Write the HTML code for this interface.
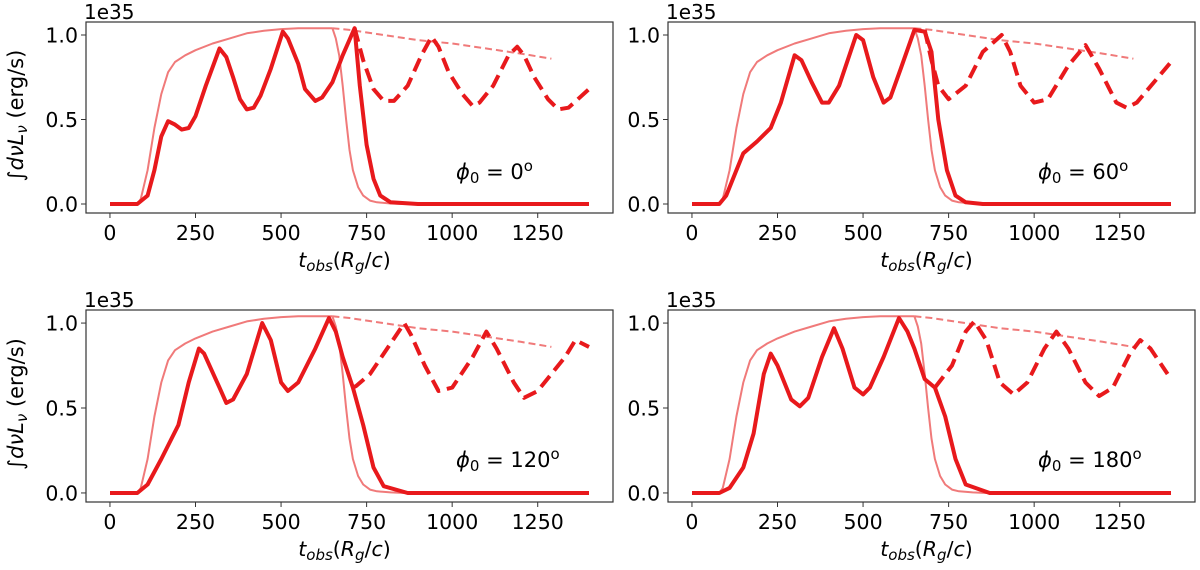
<!DOCTYPE html>
<html><head><meta charset="utf-8"><style>
body{margin:0;background:#fff;}
svg text{font-family:"DejaVu Sans","Liberation Sans",sans-serif;}
</style></head><body>
<svg id="fig" width="1200" height="565" viewBox="0 0 1200 565" xmlns="http://www.w3.org/2000/svg"></svg>
<script>
const xTicks=[0,250,500,750,1000,1250];
const yTicks=[0,0.5,1.0];
const yTickLabels=["0.0","0.5","1.0"];
const phiLabels=["0","60","120","180"];
const envT=[0,80,90,110,130,150,170,190,220,250,300,350,400,450,500,550,650];
const envV=[0,0,0.03,0.2,0.45,0.65,0.78,0.84,0.88,0.91,0.95,0.98,1.01,1.025,1.035,1.04,1.04];
const dropT=[650,660,670,680,690,700,710,725,740,760,780,820,860,1400];
const dropV=[1.04,0.98,0.88,0.7,0.5,0.32,0.2,0.1,0.05,0.02,0.01,0.003,0,0];
const envDashT=[650,700,800,900,1000,1100,1200,1290];
const envDashV=[1.04,1.03,1.0,0.97,0.95,0.92,0.89,0.86];
const solidT=[
[0,80,110,130,150,170,190,210,230,250,280,320,340,360,380,400,420,440,470,505,520,550,570,600,620,650,680,715,730,750,770,790,820,900,1400],
[0,80,100,130,150,190,230,260,300,320,350,380,400,430,480,500,530,560,580,610,650,680,700,720,745,770,800,850,1400],
[0,80,110,150,200,230,260,275,320,340,360,400,445,470,500,520,550,600,640,660,680,710,740,770,800,870,1400],
[0,80,110,150,180,210,230,250,290,315,340,380,415,440,475,500,520,560,605,630,650,680,710,740,770,800,870,1400]];
const solidV=[
[0,0,0.05,0.2,0.4,0.49,0.47,0.44,0.45,0.52,0.7,0.92,0.87,0.75,0.62,0.56,0.57,0.64,0.8,1.02,0.98,0.83,0.68,0.61,0.63,0.72,0.88,1.04,0.7,0.35,0.15,0.05,0.01,0,0],
[0,0,0.05,0.2,0.3,0.37,0.45,0.6,0.88,0.85,0.72,0.6,0.6,0.7,1.0,0.97,0.75,0.6,0.63,0.8,1.03,1.02,0.9,0.5,0.2,0.05,0.01,0,0],
[0,0,0.05,0.2,0.4,0.65,0.85,0.82,0.62,0.53,0.55,0.7,1.0,0.9,0.65,0.6,0.65,0.85,1.03,0.95,0.8,0.62,0.4,0.15,0.04,0,0],
[0,0,0.03,0.15,0.35,0.7,0.82,0.75,0.55,0.51,0.56,0.8,0.97,0.85,0.62,0.58,0.62,0.8,1.03,0.95,0.85,0.67,0.62,0.45,0.2,0.05,0,0]];
const dashT=[
[715,740,770,800,830,870,910,940,960,990,1030,1060,1080,1120,1165,1190,1210,1240,1280,1310,1340,1400],
[680,700,720,750,800,850,905,930,960,1000,1040,1100,1150,1190,1240,1270,1300,1400],
[710,720,760,820,860,880,920,960,1000,1060,1100,1130,1180,1210,1250,1330,1360,1400],
[710,760,800,825,860,900,940,980,1030,1065,1100,1150,1190,1230,1280,1310,1340,1390]];
const dashV=[
[1.04,0.85,0.68,0.61,0.61,0.7,0.88,0.99,0.93,0.78,0.65,0.58,0.6,0.7,0.88,0.93,0.88,0.75,0.62,0.56,0.57,0.68],
[1.03,0.85,0.7,0.62,0.7,0.9,1.0,0.9,0.7,0.6,0.62,0.82,0.94,0.8,0.6,0.57,0.6,0.84],
[0.62,0.63,0.7,0.88,1.0,0.93,0.75,0.6,0.62,0.8,0.95,0.85,0.65,0.56,0.6,0.8,0.9,0.86],
[0.62,0.75,0.95,1.01,0.9,0.65,0.58,0.65,0.85,0.95,0.85,0.65,0.57,0.62,0.82,0.9,0.85,0.7]];

const NS="http://www.w3.org/2000/svg";
const svg=document.getElementById('fig');
function mk(tag,attrs,parent){const e=document.createElementNS(NS,tag);for(const k in attrs)e.setAttribute(k,attrs[k]);(parent||svg).appendChild(e);return e;}
const panels=[{L:86,T:22,B:213},{L:668,T:22,B:213},{L:86,T:310,B:502},{L:668,T:310,B:502}];
const W=527,RED="#e8191c",LIGHT="#f07a7a";
panels.forEach((p,i)=>{
  const g=mk('g',{});
  
  
  const H=p.B-p.T;
  const y0=p.B-9*(H/191);
  const sy=169*(H/191);
  const X=t=>p.L+(t+70)/1540*W;
  const Y=v=>y0-v*sy;
  const line=(ts,vs,attrs,name)=>{
    const d=ts.map((t,k)=>(k?'L':'M')+X(t).toFixed(1)+','+Y(vs[k]).toFixed(1)).join('');
    const e=mk('path',Object.assign({d:d,fill:'none','stroke-linejoin':'round'},attrs),g);
    
    
  };
  line(envT,envV,{stroke:LIGHT,'stroke-width':2},'envelope-rise');
  line(dropT,dropV,{stroke:LIGHT,'stroke-width':2},'envelope-drop');
  line(envDashT,envDashV,{stroke:LIGHT,'stroke-width':2,'stroke-dasharray':'7,4'},'envelope-dashed');
  line(solidT[i],solidV[i],{stroke:RED,'stroke-width':4},'lightcurve-solid');
  line(dashT[i],dashV[i],{stroke:RED,'stroke-width':4,'stroke-dasharray':'14,7'},'lightcurve-dashed');
  const box=mk('rect',{x:p.L,y:p.T,width:W,height:H,fill:'none',stroke:'#333','stroke-width':1.2},g);
  
  
  xTicks.forEach(t=>{
    mk('line',{x1:X(t),x2:X(t),y1:p.B,y2:p.B+5,stroke:'#333'},g);
    const tx=mk('text',{x:X(t),y:p.B+27,'font-size':20.5,'text-anchor':'middle',fill:'#000'},g);
    tx.textContent=t;
    
    
  });
  yTicks.forEach((v,k)=>{
    mk('line',{x1:p.L-5,x2:p.L,y1:Y(v),y2:Y(v),stroke:'#333'},g);
    const tx=mk('text',{x:p.L-8,y:Y(v)+7.5,'font-size':20.5,'text-anchor':'end',fill:'#000'},g);
    tx.textContent=yTickLabels[k];
    
    
  });
  const e35=mk('text',{x:p.L-2,y:p.T-3,'font-size':20,fill:'#000'},g);
  e35.textContent='1e35';
  
  
  const xl=mk('text',{x:p.L+W/2-5,y:p.B+54,'font-size':20.5,'text-anchor':'middle',fill:'#000'},g);
  xl.innerHTML='<tspan font-style="italic">t</tspan><tspan font-style="italic" font-size="15" dy="4">obs</tspan><tspan dy="-4">(</tspan><tspan font-style="italic">R</tspan><tspan font-style="italic" font-size="15" dy="4">g</tspan><tspan dy="-4">/</tspan><tspan font-style="italic">c</tspan><tspan>)</tspan>';
  
  
  const an=mk('text',{x:p.L+370,y:p.T+157,'font-size':21,fill:'#000'},g);
  an.innerHTML='<tspan font-style="italic">ϕ</tspan><tspan font-size="15" dy="4">0</tspan><tspan dy="-4"> = '+phiLabels[i]+'</tspan><tspan font-size="15" dy="-8">o</tspan>';
  
  
  if(i%2===0){
    const yl=mk('text',{x:0,y:0,'font-size':21,'text-anchor':'middle',fill:'#000',transform:'translate('+(p.L-63)+','+(p.T+H/2-2)+') rotate(-90)'},g);
    yl.innerHTML='∫<tspan font-style="italic">dνL</tspan><tspan font-style="italic" font-size="15" dy="4">ν</tspan><tspan dy="-4"> (erg/s)</tspan>';
    
    
  }
});
</script>
</body></html>
